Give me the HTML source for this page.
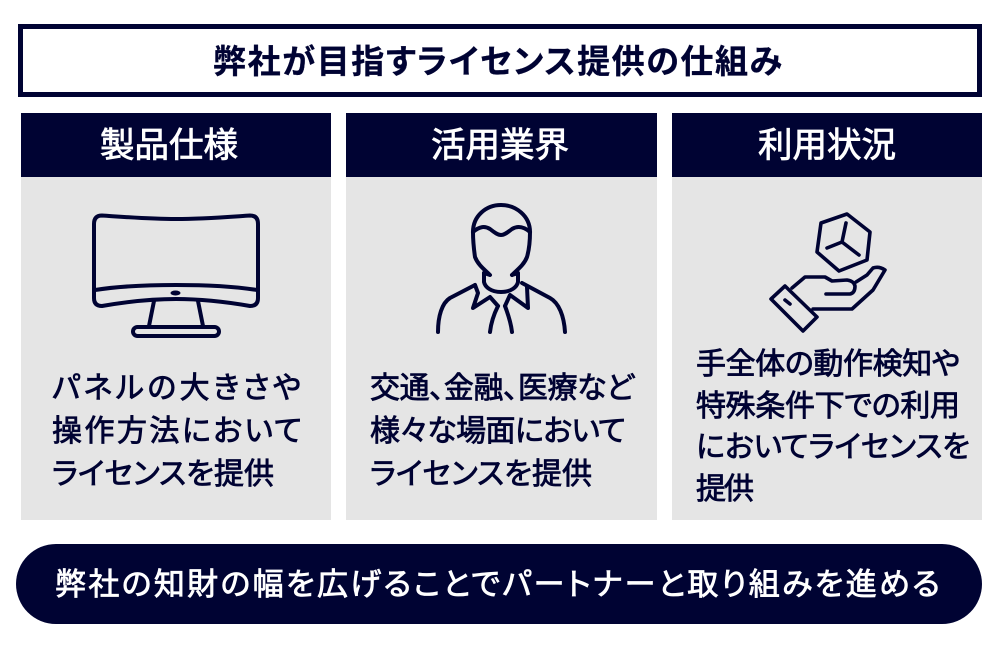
<!DOCTYPE html>
<html lang="ja"><head><meta charset="utf-8"><style>
html,body{margin:0;padding:0;background:#fff;width:1000px;height:650px;overflow:hidden}
svg{display:block}
text{font-family:"Liberation Sans","Noto Sans CJK JP",sans-serif;font-weight:400;fill:#000333;font-feature-settings:"palt";stroke:#000333;stroke-width:.8px}
.w{fill:#fff;stroke:#fff}
.i{fill:none;stroke:#000333;stroke-width:4;stroke-linecap:round;stroke-linejoin:round}
</style></head><body>
<svg width="1000" height="650" viewBox="0 0 1000 650" xmlns="http://www.w3.org/2000/svg">
<rect width="1000" height="650" fill="#fff"/>
<rect x="20.500" y="26.500" width="959" height="68" fill="#fff" stroke="#000333" stroke-width="5"/>
<text x="213" y="73" font-size="33" textLength="569" lengthAdjust="spacing" style="font-weight:700;stroke-width:.3px">弊社が目指すライセンス提供の仕組み</text>
<g fill="#e5e5e5"><rect x="21" y="177" width="310" height="343"/><rect x="346" y="177" width="311" height="343"/><rect x="672" y="177" width="310" height="343"/></g>
<g fill="#000333"><rect x="21" y="113" width="310" height="64"/><rect x="346" y="113" width="311" height="64"/><rect x="672" y="113" width="310" height="64"/></g>
<g font-size="34.500">
<text class="w" x="100" y="157" textLength="138" lengthAdjust="spacing">製品仕様</text>
<text class="w" x="431" y="157" textLength="138" lengthAdjust="spacing">活用業界</text>
<text class="w" x="758" y="157" textLength="138" lengthAdjust="spacing">利用状況</text>
</g>
<g font-size="30">
<text x="52" y="398" textLength="249" lengthAdjust="spacing">パネルの大きさや</text>
<text x="52" y="441" textLength="250" lengthAdjust="spacing">操作方法において</text>
<text x="52" y="484" textLength="222" lengthAdjust="spacing">ライセンスを提供</text>
<text x="370" y="398" textLength="264" lengthAdjust="spacing">交通、金融、医療など</text>
<text x="370" y="441" textLength="256" lengthAdjust="spacing">様々な場面において</text>
<text x="370" y="484" textLength="222" lengthAdjust="spacing">ライセンスを提供</text>
<text x="696" y="374" textLength="264" lengthAdjust="spacing">手全体の動作検知や</text>
<text x="696" y="416" textLength="264" lengthAdjust="spacing">特殊条件下での利用</text>
<text x="696" y="457" textLength="274" lengthAdjust="spacing">においてライセンスを</text>
<text x="696" y="499" textLength="58" lengthAdjust="spacing">提供</text>
</g>
<rect x="16" y="544" width="966" height="80" rx="40" fill="#000333"/>
<text class="w" x="55" y="595" font-size="31" textLength="885" lengthAdjust="spacing">弊社の知財の幅を広げることでパートナーと取り組みを進める</text>
<!-- monitor -->
<g class="i">
<path d="M102 215.500C125 217 150 219 176 219C202 219 227 217 250 215.500Q258 215.500 258 224V298Q258 306 250 306C227 302 202 299 176 299C150 299 125 302 102 306Q94 306 94 298V224Q94 215.500 102 215.500Z"/>
<path d="M95 290C120 286 148 285 176 285C204 285 232 286 257 290"/>
<path d="M154 301L149 326M198 301L203 326"/>
<rect x="133" y="327" width="86" height="9" rx="4.500"/>
</g>
<ellipse cx="175.500" cy="293" rx="5" ry="2.500" fill="#000333"/>
<!-- person -->
<g class="i">
<path d="M473 232C473 216 486 205 501 205C516 205 530 216 530 232C530 243 529 250 527 257C524 265 517 270 512 275"/>
<path d="M473 232C473 243 474 250 475 257C478 265 485 270 490 275L484 273"/>
<path d="M473 232C480 226 485 226 490 229C495 233 498 235 501 235C504 235 507 233 512 229C517 226 523 226 530 232"/>
<path d="M484 273V282C485 287 491 292 501 292C511 292 517 287 518 282V273L512 275"/>
<path d="M475 285L450 298C442 303 438 316 438 332M522 283L550 298C559 303 564 316 565 332"/>
<path d="M475 285L478 293L473 308L490 297L498 306M527 287L528 308L510 295L505 306"/>
<path d="M498 306C494 314 491 323 490 332M505 306C508 314 511 323 512 332"/>
</g>
<!-- hand + cube -->
<g class="i" style="stroke-width:3.600">
<path d="M821 223L847 214L870 232L867 260L839 271L817 252Z"/>
<path d="M846 223L842 242M842 242L827 248M842 242L859 255"/>
<path d="M792 288L805 277H825L832 281L847 280Q854 281 855 286Q855 293 850 294H826"/>
<path d="M856 282L867 275L873 268Q879 266 885 270L873 290L852 309H813"/>
<path d="M771 299L785 286L817 317L803 331Z"/>
<path d="M785 300L790 304"/>
</g>
</svg>
</body></html>
